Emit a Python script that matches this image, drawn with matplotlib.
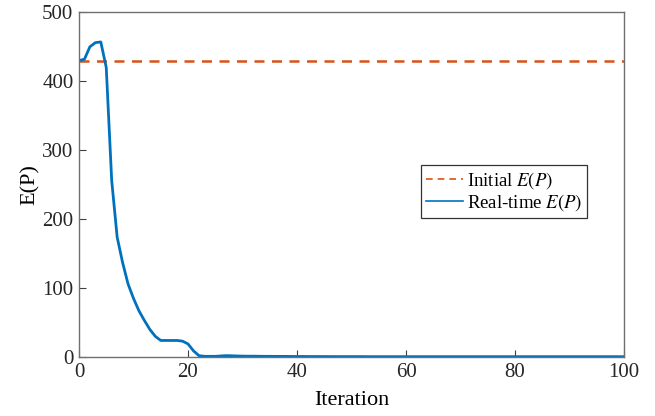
import matplotlib
matplotlib.use("Agg")
import numpy as np
import matplotlib.pyplot as plt

plt.rcParams["font.family"] = ["Liberation Serif", "DejaVu Serif"]
plt.rcParams["mathtext.fontset"] = "stix"

# values
INITIAL_E = 430
iters = np.arange(0, 101)
head = [430, 432, 450, 456, 457, 420, 256, 174, 137, 106,
        85, 67, 53, 40, 30, 24, 24, 24, 24, 23,
        19, 9, 2, 1, 1, 1, 1.5, 2, 1.8, 1.5,
        1.3, 1.2, 1.2, 1.1, 1.0, 1.0, 0.9, 0.9, 0.9, 0.8]
tail = [0.8, 0.8, 0.7, 0.7, 0.7, 0.7, 0.6, 0.6, 0.6, 0.6,
        0.6, 0.6, 0.6, 0.5, 0.5, 0.5, 0.5, 0.5, 0.5, 0.5,
        0.5, 0.5, 0.5, 0.5, 0.5, 0.5, 0.5, 0.5, 0.5, 0.5,
        0.5, 0.5, 0.5, 0.5, 0.5, 0.5, 0.5, 0.5, 0.5, 0.5,
        0.5, 0.5, 0.5, 0.5, 0.5, 0.5, 0.5, 0.5, 0.5, 0.5,
        0.5, 0.5, 0.5, 0.5, 0.5, 0.5, 0.5, 0.5, 0.5, 0.5,
        0.5]
realtime = np.array(head + tail)

fig = plt.figure(figsize=(6.55, 4.16), dpi=100)
ax = fig.add_axes([0.1206, 0.1418, 0.8321, 0.8286])

ax.plot(iters, np.full_like(iters, INITIAL_E, dtype=float), "--",
        color="#D95319", linewidth=1.8, dashes=(4, 3), label="Initial $E(P)$")
ax.plot(iters, realtime, "-", color="#0072BD", linewidth=2.0,
        label="Real-time $E(P)$")

ax.set_xlim(0, 100)
ax.set_ylim(0, 500)
ax.set_xticks(np.arange(0, 101, 20))
ax.set_yticks(np.arange(0, 501, 100))
ax.tick_params(direction="in", labelsize=15, length=5, width=0.8,
               color="#404040", labelcolor="#262626", pad=4)
for sp in ax.spines.values():
    sp.set_linewidth(1.0)
    sp.set_color("#707070")

ax.set_xlabel("Iteration", fontsize=16, labelpad=7)
ax.set_ylabel("E(P)", fontsize=16, labelpad=2)

leg = ax.legend(loc="upper left", bbox_to_anchor=(0.628, 0.557),
                fontsize=13.5, frameon=True, fancybox=False,
                handlelength=2.0, handletextpad=0.2, borderpad=0.25,
                labelspacing=0.1, borderaxespad=0)
leg.get_frame().set_edgecolor("black")
leg.get_frame().set_linewidth(0.9)
for h in leg.get_lines():
    h.set_linewidth(1.2)

fig.savefig("out.png", dpi=100)
